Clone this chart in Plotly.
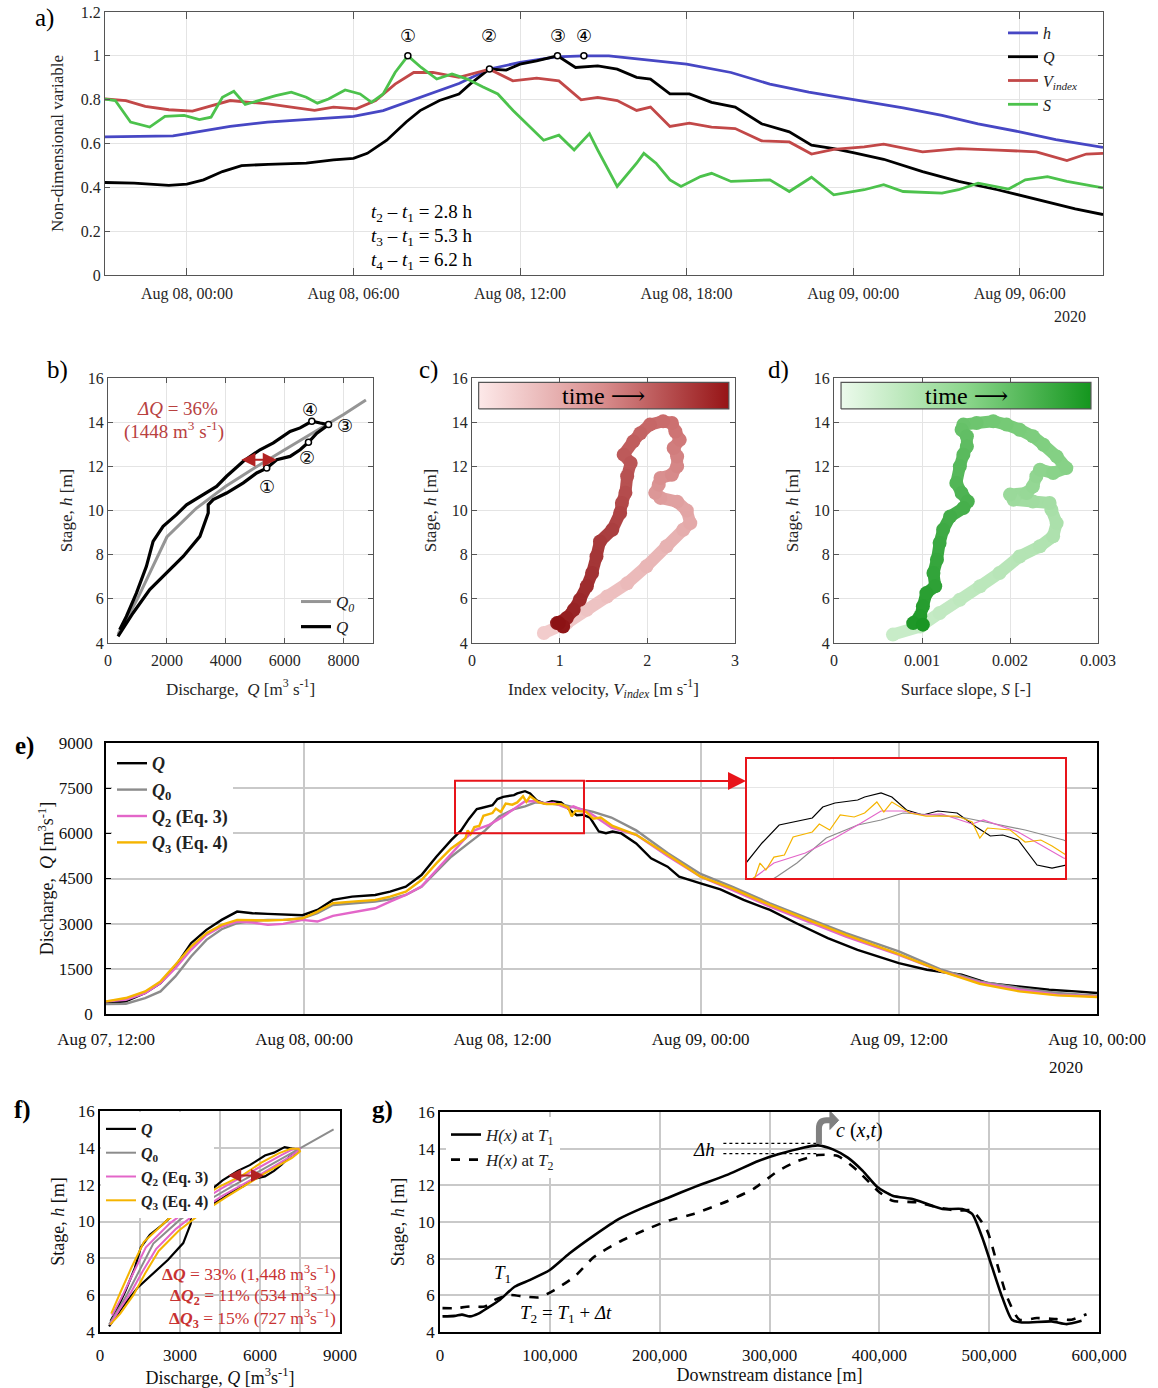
import numpy as np
import pandas as pd
import plotly.graph_objects as go
from plotly.colors import sample_colorscale

W, H = 1158, 1388
SERIF = "Liberation Serif, DejaVu Serif, serif"

def fx(p):
    return p / W

def fy(p):
    return 1 - p / H

T0_A = pd.Timestamp("2020-08-08 00:00")
T0_E = pd.Timestamp("2020-08-07 12:00")

def tt(base, hours):
    return (base + pd.to_timedelta(np.array(hours, dtype=float), unit="h")).strftime("%Y-%m-%d %H:%M:%S").tolist()

# ---------------- Panel a data (hours after 2020-08-08 00:00, non-dimensional) ----------------
a_h_t = [-2.95, -0.5, 0, 1.56, 2.9, 4.3, 6, 7.07, 8.4, 9.8, 10.9, 12, 13.3, 14.3, 15.2, 18, 19.6, 21, 22.4, 24, 25.8, 27.2, 28.5, 30, 31.3, 33]
a_h_v = [0.630, 0.635, 0.645, 0.678, 0.698, 0.71, 0.724, 0.75, 0.81, 0.874, 0.94, 0.97, 0.995, 1.0, 1.0, 0.962, 0.924, 0.871, 0.834, 0.799, 0.763, 0.728, 0.69, 0.653, 0.618, 0.582]

a_Q_t = [-2.95, -1.9, -0.65, 0, 0.6, 1.28, 1.97, 2.93, 4.3, 5.28, 6, 6.5, 7.2, 7.9, 8.4, 9.1, 9.8, 10.2, 10.9, 11.5, 12, 12.6, 13.35, 14.0, 14.8, 15.5, 16.2, 16.7, 17.4, 18.1, 18.9, 19.75, 20.7, 21.7, 22.5, 23.3, 24, 25.1, 26.5, 27.8, 29.2, 30.6, 32, 33]
a_Q_v = [0.422, 0.419, 0.409, 0.415, 0.434, 0.472, 0.499, 0.505, 0.51, 0.525, 0.532, 0.555, 0.615, 0.698, 0.75, 0.796, 0.826, 0.871, 0.94, 0.935, 0.962, 0.977, 1.0, 0.947, 0.954, 0.939, 0.902, 0.894, 0.826, 0.826, 0.788, 0.766, 0.69, 0.653, 0.592, 0.577, 0.558, 0.528, 0.472, 0.427, 0.389, 0.347, 0.302, 0.276]

a_V_t = [-2.95, -2.2, -1.5, -0.65, 0.2, 0.87, 1.56, 2.25, 2.93, 3.76, 4.6, 5.28, 6.1, 6.8, 7.5, 8.17, 8.86, 9.8, 10.9, 11.74, 12.6, 13.4, 14.2, 14.8, 15.5, 16.2, 16.7, 17.4, 18.1, 18.9, 19.75, 20.7, 21.7, 22.5, 23.3, 24.4, 25.1, 26.5, 27.8, 29.2, 30.6, 31.7, 32.4, 33]
a_V_v = [0.803, 0.796, 0.769, 0.754, 0.748, 0.773, 0.796, 0.788, 0.781, 0.766, 0.751, 0.766, 0.758, 0.796, 0.871, 0.924, 0.924, 0.902, 0.939, 0.886, 0.898, 0.886, 0.799, 0.81, 0.796, 0.751, 0.766, 0.678, 0.693, 0.675, 0.668, 0.612, 0.607, 0.552, 0.573, 0.585, 0.597, 0.562, 0.577, 0.57, 0.562, 0.522, 0.552, 0.555]

a_S_t = [-2.95, -2.58, -2.03, -1.34, -0.79, -0.1, 0.45, 0.87, 1.28, 1.69, 2.1, 2.66, 3.2, 3.76, 4.3, 4.7, 5.1, 5.7, 6.24, 6.65, 7.07, 7.5, 7.96, 8.44, 9.0, 9.55, 10.1, 10.65, 11.2, 11.75, 12.3, 12.85, 13.4, 13.95, 14.5, 14.8, 15.5, 16.2, 16.46, 16.9, 17.4, 17.8, 18.5, 18.9, 19.6, 21.0, 21.7, 22.5, 23.3, 24.4, 25.1, 25.8, 27.2, 27.8, 28.5, 29.6, 30.2, 31.0, 31.7, 32.6, 33]
a_S_v = [0.803, 0.796, 0.698, 0.675, 0.724, 0.728, 0.709, 0.72, 0.811, 0.838, 0.778, 0.799, 0.818, 0.834, 0.811, 0.784, 0.803, 0.844, 0.826, 0.788, 0.826, 0.924, 1.0, 0.947, 0.894, 0.917, 0.894, 0.859, 0.826, 0.751, 0.683, 0.615, 0.638, 0.57, 0.645, 0.57, 0.404, 0.51, 0.555, 0.51, 0.434, 0.404, 0.449, 0.464, 0.427, 0.434, 0.381, 0.446, 0.366, 0.389, 0.412, 0.381, 0.374, 0.389, 0.419, 0.392, 0.434, 0.449, 0.427, 0.404, 0.397]

a_mark_t = [7.96, 10.9, 13.35, 14.3]
a_mark_v = [1.0, 0.94, 1.0, 1.0]
mark_labels = ["①", "②", "③", "④"]

# ---------------- Panel b / f data: stage-discharge ----------------
b_Q = [340, 851, 1418, 1986, 2553, 3121, 3404, 3404, 3574, 4028, 4596, 5050, 5390, 5730, 6184, 6525, 6808, 7092, 7490,
       7206, 6922, 6525, 6184, 5617, 5163, 4596, 4028, 3688, 3121, 2667, 2326, 1872, 1532, 1305, 965, 624, 397]
b_h = [4.3, 5.36, 6.42, 7.17, 7.92, 8.83, 9.89, 10.26, 10.49, 10.79, 11.25, 11.7, 11.92, 12.3, 12.45, 12.75, 13.09, 13.5, 13.89,
       13.96, 14.04, 13.74, 13.58, 13.06, 12.75, 12.23, 11.55, 11.09, 10.64, 10.26, 9.81, 9.28, 8.6, 7.47, 6.26, 5.2, 4.6]
q0_Q = [340, 1000, 2000, 3000, 4000, 5000, 6000, 7000, 8000, 8760]
q0_h = [4.4, 6.0, 8.8, 10.1, 11.1, 11.95, 12.75, 13.55, 14.35, 15.0]
b_mark_Q = [5390, 6808, 7490, 6922]
b_mark_h = [11.92, 13.09, 13.89, 14.04]
b_lab_Q = [5390, 6751, 8057, 6865]
b_lab_h = [11.1, 12.42, 13.85, 14.57]

f_Q2 = [380, 720, 1180, 1600, 2100, 2850, 3650, 4600, 5960, 6550, 7100, 7450, 7480,
        7350, 7200, 6800, 6150, 5420, 4560, 3550, 2620, 1720, 1280, 850, 450]
f_h2 = [4.4, 5.2, 6.2, 7.3, 8.5, 9.6, 10.5, 11.4, 12.5, 13.0, 13.5, 13.85, 13.95,
        13.95, 13.9, 13.6, 13.1, 12.5, 11.8, 10.9, 9.9, 8.6, 7.3, 6.0, 4.9]
f_Q3 = [380, 760, 1250, 1700, 2200, 2950, 3750, 4700, 6050, 6650, 7200, 7500, 7450,
        7300, 7150, 6700, 6050, 5330, 4480, 3480, 2540, 1650, 1180, 780, 420]
f_h3 = [4.4, 5.0, 6.0, 7.2, 8.4, 9.5, 10.4, 11.3, 12.5, 13.0, 13.45, 13.8, 13.95,
        13.95, 13.95, 13.7, 13.2, 12.5, 11.9, 11.0, 10.1, 8.9, 7.5, 6.2, 5.0]

# ---------------- Panel c data: index velocity vs stage (time ordered) ----------------
c_V = [0.82, 1.08, 1.31, 1.54, 1.77, 1.99, 2.22, 2.41, 2.49, 2.45, 2.34, 2.15, 2.09, 2.13, 2.15, 2.28, 2.34, 2.34, 2.30, 2.37, 2.32, 2.28, 2.18, 2.03, 1.92, 1.84, 1.73, 1.81, 1.77, 1.75, 1.71, 1.69, 1.60, 1.46, 1.42, 1.37, 1.31, 1.23, 1.16, 1.08, 0.97, 1.04, 0.99]
c_h = [4.45, 4.9, 5.5, 6.1, 6.7, 7.47, 8.38, 9.13, 9.43, 10.0, 10.4, 10.57, 10.8, 11.17, 11.47, 11.62, 12.0, 12.45, 12.83, 13.2, 13.58, 13.96, 14.04, 13.89, 13.5, 13.13, 12.53, 12.15, 11.55, 10.8, 10.34, 9.89, 9.13, 8.6, 7.92, 7.17, 6.57, 5.96, 5.5, 5.13, 4.9, 4.75, 4.9]

# ---------------- Panel d data: surface slope vs stage (time ordered) ----------------
d_S = [0.00067, 0.00098, 0.0012, 0.00143, 0.00166, 0.00188, 0.00211, 0.00234, 0.00249, 0.00253, 0.00247, 0.00245, 0.00226, 0.00204, 0.0020, 0.00219, 0.00226, 0.0023, 0.00234, 0.00249, 0.00264, 0.00253, 0.00238, 0.00226, 0.00211, 0.00196, 0.00181, 0.00162, 0.00147, 0.00145, 0.00151, 0.00151, 0.00147, 0.00143, 0.00139, 0.00145, 0.00152, 0.00147, 0.00132, 0.00124, 0.0012, 0.00117, 0.00113, 0.00115, 0.00105, 0.00101, 0.00098, 0.0009, 0.00101]
d_h = [4.38, 4.75, 5.36, 5.96, 6.57, 7.17, 7.92, 8.38, 8.83, 9.43, 10.04, 10.34, 10.41, 10.49, 10.72, 10.79, 11.09, 11.55, 11.85, 11.7, 11.92, 12.45, 12.98, 13.36, 13.66, 13.89, 14.04, 13.96, 13.89, 13.66, 13.36, 12.9, 12.53, 12.0, 11.25, 10.79, 10.41, 10.11, 9.73, 9.13, 8.53, 7.77, 7.17, 6.57, 6.26, 5.66, 5.21, 4.9, 4.83]

# ---------------- Panel e data (hours after 2020-08-07 12:00, m3/s) ----------------
e_Q_t = [0, 1.2, 2.37, 3.3, 4.2, 5.15, 6.08, 7.0, 7.94, 8.87, 9.8, 10.96, 11.9, 12.8, 13.74, 14.9, 16.3, 17.2, 18.15, 19.1, 20.0, 20.9,
         21.5, 21.96, 22.45, 22.73, 23.4, 23.7, 24.05, 24.7, 24.9, 25.37, 25.68, 26.1, 26.57, 27.0, 27.55, 28.1, 28.5, 28.86, 29.3, 29.84, 30.27, 30.67,
         31.2, 32.1, 33, 34, 34.7, 36, 37.2, 38.6, 40.2, 41.8, 43.7, 45.5, 48, 49.7, 51.8, 53.4, 55.3, 57.1, 58.7, 60]
e_Q_v = [364, 420, 696, 1027, 1579, 2352, 2794, 3125, 3401, 3346, 3324, 3291, 3280, 3456, 3788, 3898, 3953, 4064, 4229, 4616, 5223, 5776,
         6097, 6470, 6804, 6841, 6934, 7139, 7213, 7269, 7325, 7400, 7325, 7083, 6990, 7064, 7027, 6767, 6600, 6618, 6525, 6060, 6004, 6060,
         5996, 5665, 5168, 4892, 4561, 4340, 4141, 3788, 3456, 3015, 2518, 2131, 1690, 1469, 1303, 1027, 917, 806, 751, 696]

e_Q0_t = [0, 1.2, 2.37, 3.3, 4.2, 5.15, 6.08, 7.0, 7.94, 8.87, 9.8, 10.96, 11.9, 12.8, 13.74, 14.9, 16.3, 17.2, 18.15, 19.1, 20.0, 20.9, 21.9,
          22.4, 22.96, 23.8, 24.7, 25.37, 26.0, 26.9, 27.8, 28.75, 29.5, 30.6,
          32.1, 34, 36, 37.9, 40.2, 42.5, 44.8, 48, 50.6, 52.9, 55.3, 57.6, 60]
e_Q0_v = [331, 342, 530, 751, 1248, 1910, 2463, 2816, 3015, 3092, 3125, 3125, 3180, 3346, 3622, 3677, 3733, 3810, 3953, 4229, 4726, 5223, 5650,
          5850, 6097, 6562, 6804, 6897, 7027, 6990, 6934, 6804, 6711, 6525,
          6100, 5350, 4650, 4229, 3677, 3180, 2683, 2076, 1469, 1082, 861, 696, 607]

e_Q2_t = [0, 1.2, 2.37, 3.3, 4.2, 5.15, 6.08, 7.0, 7.94, 8.87, 9.8, 10.73, 11.9, 12.8, 13.74, 14.9, 16.3, 17.2, 18.15, 19.1, 20.0, 20.9,
          21.76, 22.3, 23.2, 24.05, 24.8, 25.37, 26.0, 26.57, 27.1, 27.98, 28.3, 29.3, 30.6,
          32.1, 34, 36, 37.9, 40.2, 42.5, 44.8, 48, 50.6, 52.9, 55.3, 57.6, 60]
e_Q2_v = [420, 475, 696, 1027, 1524, 2131, 2628, 2904, 3070, 3037, 2960, 2993, 3125, 3070, 3258, 3368, 3512, 3733, 3953, 4229, 4782, 5334,
          5837, 6097, 6283, 6562, 6841, 7064, 7064, 6990, 7009, 6823, 6897, 6674, 6190,
          5950, 5250, 4561, 4119, 3567, 3070, 2573, 1966, 1414, 1049, 806, 641, 585]

e_Q3_t = [0, 1.2, 2.37, 3.3, 4.2, 5.15, 6.08, 7.0, 7.94, 8.87, 9.8, 10.73, 11.9, 12.8, 13.74, 14.9, 16.3, 17.2, 18.15, 19.1, 20.0, 20.9,
          21.76, 21.9, 22.07, 22.3, 22.6, 22.85, 23.4, 23.6, 23.9, 24.2, 24.6, 24.9, 25.25, 25.45, 25.68, 26.2, 26.66, 27.55, 27.98, 28.2, 28.42, 29.07, 29.5, 29.95, 30.27, 30.67,
          32.1, 34, 36, 37.9, 40.2, 42.5, 44.8, 48, 50.6, 52.9, 55.3, 57.6, 60]
e_Q3_v = [420, 530, 751, 1082, 1634, 2242, 2683, 2960, 3125, 3103, 3103, 3125, 3180, 3401, 3677, 3733, 3788, 3898, 4064, 4450, 5002, 5499,
          5837, 6097, 5967, 6208, 6245, 6581, 6674, 6823, 6711, 6990, 6953, 7027, 7232, 7046, 7232, 7027, 6971, 6971, 6860, 6562, 6748, 6711, 6488, 6525, 6413, 6245,
          5950, 5300, 4561, 4174, 3622, 3125, 2628, 1988, 1414, 1005, 751, 618, 563]

# ---------------- Panel g data: water-surface profiles ----------------
g_x1 = [2264, 13584, 20000, 27168, 35000, 43016, 54336, 67920, 81504, 99616, 117728, 140368, 163008, 185648, 208288, 230928, 262624, 289792, 307904, 330544, 344128, 357712, 371296, 384880, 398464, 412048, 430160, 443744, 457328, 475440, 484496, 493552, 502608, 511664, 520720, 529776, 556944, 570528, 584112]
g_h1 = [4.85, 4.88, 4.95, 4.85, 5.0, 5.3, 5.75, 6.47, 6.83, 7.37, 8.28, 9.27, 10.17, 10.8, 11.34, 11.89, 12.6, 13.33, 13.69, 14.05, 14.18, 13.96, 13.51, 12.79, 11.89, 11.43, 11.25, 10.98, 10.71, 10.71, 10.44, 9.18, 7.55, 5.93, 4.67, 4.52, 4.58, 4.43, 4.61]
g_x2 = [2264, 13584, 27168, 40752, 49808, 63392, 76976, 90560, 104144, 122256, 140368, 163008, 185648, 208288, 230928, 262624, 285264, 307904, 326016, 344128, 362240, 380352, 398464, 412048, 434688, 452800, 470912, 484496, 498080, 507136, 516192, 527512, 543360, 561472, 575056, 588640]
g_h2 = [5.3, 5.3, 5.39, 5.39, 5.75, 6.02, 5.93, 5.89, 6.29, 7.01, 8.1, 8.91, 9.54, 10.08, 10.44, 11.16, 11.8, 12.79, 13.33, 13.65, 13.6, 12.79, 11.71, 11.16, 11.07, 10.8, 10.62, 10.62, 9.54, 7.74, 5.93, 4.67, 4.76, 4.7, 4.67, 4.97]

# ---------------- Styles ----------------
BLUE, BLACK, RED, GREEN = "#4747c4", "#000000", "#c24848", "#4cc24c"
GRAY, PINK, ORANGE = "#8c8c8c", "#e366c9", "#f5b400"
GRID_A, LINE_A = "#e4e4e4", "#555555"
GRID_E = "#c9c9c9"

fig = go.Figure()

# ---- panel a traces ----
for t, v, c, nm in [(a_h_t, a_h_v, BLUE, "<i>h</i>"), (a_Q_t, a_Q_v, BLACK, "<i>Q</i>"),
                    (a_V_t, a_V_v, RED, "<i>V</i><sub><i>index</i></sub>"), (a_S_t, a_S_v, GREEN, "<i>S</i>")]:
    fig.add_trace(go.Scatter(x=tt(T0_A, t), y=v, mode="lines", name=nm, line=dict(color=c, width=2.8),
                             xaxis="x", yaxis="y", legend="legend"))
fig.add_trace(go.Scatter(x=tt(T0_A, a_mark_t), y=a_mark_v, mode="markers", showlegend=False,
                         marker=dict(symbol="circle", size=6, color="white", line=dict(color="black", width=1.5)),
                         xaxis="x", yaxis="y"))

# ---- panel b traces ----
fig.add_trace(go.Scatter(x=q0_Q, y=q0_h, mode="lines", name="<i>Q</i><sub><i>0</i></sub>",
                         line=dict(color="#959595", width=3), xaxis="x2", yaxis="y2", legend="legend2"))
fig.add_trace(go.Scatter(x=b_Q, y=b_h, mode="lines", name="<i>Q</i>",
                         line=dict(color="black", width=3.2), xaxis="x2", yaxis="y2", legend="legend2"))
fig.add_trace(go.Scatter(x=b_mark_Q, y=b_mark_h, mode="markers", showlegend=False,
                         marker=dict(symbol="circle", size=6, color="white", line=dict(color="black", width=1.5)),
                         xaxis="x2", yaxis="y2"))

# ---- panel c / d gradient paths ----
def gradient_path(xs, ys, cscale, xa, ya, width):
    n = len(xs)
    cols = sample_colorscale(cscale, [i / (n - 1) for i in range(n)])
    for i in range(n - 1):
        fig.add_trace(go.Scatter(x=[xs[i], xs[i + 1]], y=[ys[i], ys[i + 1]], mode="lines", showlegend=False,
                                 line=dict(color=cols[i], width=width), xaxis=xa, yaxis=ya, hoverinfo="skip"))
    fig.add_trace(go.Scatter(x=xs, y=ys, mode="markers", showlegend=False,
                             marker=dict(color=cols, size=width + 2, line=dict(width=0)), xaxis=xa, yaxis=ya))

def time_bar(x0, x1, y0, y1, cscale, xa, ya):
    fig.add_trace(go.Scatter(x=[x0, x1, x1, x0, x0], y=[y0, y0, y1, y1, y0], mode="lines", fill="toself",
                             fillgradient=dict(type="horizontal", colorscale=cscale),
                             line=dict(color="#555555", width=1.2), showlegend=False,
                             xaxis=xa, yaxis=ya, hoverinfo="skip"))

RED_PTS = [[0, "rgb(242,204,204)"], [0.5, "rgb(204,112,112)"], [1, "rgb(140,18,20)"]]
RED_BAR = [[0, "rgb(253,233,233)"], [0.5, "rgb(216,140,140)"], [1, "rgb(150,20,22)"]]
GRN_PTS = [[0, "rgb(200,236,200)"], [0.5, "rgb(122,204,122)"], [1, "rgb(26,150,36)"]]
GRN_BAR = [[0, "rgb(236,250,236)"], [0.5, "rgb(140,214,140)"], [1, "rgb(20,150,30)"]]

time_bar(0.076, 2.93, 14.6, 15.8, RED_BAR, "x3", "y3")
gradient_path(c_V, c_h, RED_PTS, "x3", "y3", 12)
time_bar(0.00008, 0.00292, 14.6, 15.8, GRN_BAR, "x4", "y4")
gradient_path(d_S, d_h, GRN_PTS, "x4", "y4", 12)

# ---- panel e traces + inset ----
e_series = [(e_Q_t, e_Q_v, BLACK, "<b><i>Q</i></b>"), (e_Q0_t, e_Q0_v, GRAY, "<b><i>Q</i><sub>0</sub></b>"),
            (e_Q2_t, e_Q2_v, PINK, "<b><i>Q</i><sub>2</sub> (Eq. 3)</b>"), (e_Q3_t, e_Q3_v, ORANGE, "<b><i>Q</i><sub>3</sub> (Eq. 4)</b>")]
for t, v, c, nm in e_series:
    fig.add_trace(go.Scatter(x=tt(T0_E, t), y=v, mode="lines", name=nm, line=dict(color=c, width=2.4),
                             xaxis="x5", yaxis="y5", legend="legend3"))
for t, v, c, nm in e_series:
    fig.add_trace(go.Scatter(x=tt(T0_E, t), y=v, mode="lines", showlegend=False, line=dict(color=c, width=1.2),
                             xaxis="x6", yaxis="y6"))

# ---- panel f traces ----
f_series = [(b_Q, b_h, BLACK, "<b><i>Q</i></b>", 2.2), (q0_Q, q0_h, GRAY, "<b><i>Q</i><sub>0</sub></b>", 2.0),
            (f_Q2, f_h2, PINK, "<b><i>Q</i><sub>2</sub> (Eq. 3)</b>", 2.0), (f_Q3, f_h3, ORANGE, "<b><i>Q</i><sub>3</sub> (Eq. 4)</b>", 2.0)]
for q, h, c, nm, w in f_series:
    fig.add_trace(go.Scatter(x=q, y=h, mode="lines", name=nm, line=dict(color=c, width=w),
                             xaxis="x7", yaxis="y7", legend="legend4"))

# ---- panel g traces ----
fig.add_trace(go.Scatter(x=g_x1, y=g_h1, mode="lines", name="<i>H(x)</i> at <i>T</i><sub>1</sub>",
                         line=dict(color="black", width=2.6, shape="spline", smoothing=0.6),
                         xaxis="x8", yaxis="y8", legend="legend5"))
fig.add_trace(go.Scatter(x=g_x2, y=g_h2, mode="lines", name="<i>H(x)</i> at <i>T</i><sub>2</sub>",
                         line=dict(color="black", width=2.6, dash="dash", shape="spline", smoothing=0.6),
                         xaxis="x8", yaxis="y8", legend="legend5"))

# ---------------- Axes ----------------
def mat_axis(domain, anchor, **kw):
    d = dict(domain=domain, anchor=anchor, showline=True, linecolor=LINE_A, linewidth=1, mirror="ticks",
             ticks="inside", ticklen=5, tickcolor=LINE_A, showgrid=True, gridcolor=GRID_A, gridwidth=1,
             zeroline=False, tickfont=dict(family=SERIF, size=16, color="#262626"))
    d.update(kw)
    return d

def e_axis(domain, anchor, **kw):
    d = dict(domain=domain, anchor=anchor, showline=True, linecolor="black", linewidth=1.6, mirror="ticks",
             ticks="inside", ticklen=5, tickcolor="black", showgrid=True, gridcolor=GRID_E, gridwidth=1.6,
             zeroline=False, tickfont=dict(family=SERIF, size=17, color="#111111"))
    d.update(kw)
    return d

TITLE_FONT = dict(family=SERIF, size=17, color="#262626")
TITLE_FONT_E = dict(family=SERIF, size=18, color="#111111")
SIXH = 6 * 3600 * 1000
TWELVEH = 12 * 3600 * 1000

layout_axes = dict(
    xaxis=mat_axis([fx(105), fx(1103)], "y", type="date", range=tt(T0_A, [-2.95, 33]), dtick=SIXH,
                   tick0="2020-08-08 00:00", tickformat="%b %d, %H:%M", ticklen=7, ticklabelstandoff=4),
    yaxis=mat_axis([fy(275), fy(12)], "x", range=[0, 1.2], dtick=0.2,
                   title=dict(text="Non-dimensional variable", font=TITLE_FONT, standoff=12)),
    xaxis2=mat_axis([fx(108), fx(373)], "y2", range=[0, 9000], dtick=2000, ticklabelstandoff=3,
                    title=dict(text="Discharge,  <i>Q</i> [m<sup>3</sup> s<sup>-1</sup>]", font=TITLE_FONT, standoff=14)),
    yaxis2=mat_axis([fy(643), fy(378)], "x2", range=[4, 16], dtick=2,
                    title=dict(text="Stage, <i>h</i> [m]", font=TITLE_FONT, standoff=10)),
    xaxis3=mat_axis([fx(472), fx(735)], "y3", range=[0, 3], dtick=1, ticklabelstandoff=3,
                    title=dict(text="Index velocity, <i>V</i><sub><i>index</i></sub> [m s<sup>-1</sup>]", font=TITLE_FONT, standoff=14)),
    yaxis3=mat_axis([fy(643), fy(378)], "x3", range=[4, 16], dtick=2,
                    title=dict(text="Stage, <i>h</i> [m]", font=TITLE_FONT, standoff=10)),
    xaxis4=mat_axis([fx(834), fx(1098)], "y4", range=[0, 0.003], dtick=0.001, tickformat=".3~f", ticklabelstandoff=3,
                    title=dict(text="Surface slope, <i>S</i> [-]", font=TITLE_FONT, standoff=14)),
    yaxis4=mat_axis([fy(643), fy(378)], "x4", range=[4, 16], dtick=2,
                    title=dict(text="Stage, <i>h</i> [m]", font=TITLE_FONT, standoff=10)),
    xaxis5=e_axis([fx(106), fx(1097)], "y5", type="date", range=tt(T0_E, [0, 60]), dtick=TWELVEH,
                  tick0="2020-08-07 12:00", tickformat="%b %d, %H:%M", ticks="", ticklabelstandoff=9),
    yaxis5=e_axis([fy(1014), fy(743)], "x5", range=[0, 9000], dtick=1500, tickformat="d", ticklabelstandoff=8,
                  title=dict(text="Discharge,  <i>Q</i> [m<sup>3</sup>s<sup>-1</sup>]", font=TITLE_FONT_E, standoff=0)),
    xaxis6=dict(domain=[fx(746), fx(1066)], anchor="y6", type="date", range=tt(T0_E, [21.5, 30.67]),
                dtick=TWELVEH, tick0="2020-08-08 00:00", showticklabels=False, ticks="", showline=False,
                showgrid=True, gridcolor="#e6e6e6", zeroline=False),
    yaxis6=dict(domain=[fy(879), fy(758)], anchor="x6", range=[5800, 8050], tickvals=[6650, 7500],
                showticklabels=False, ticks="", showline=False, showgrid=True, gridcolor="#e6e6e6", zeroline=False),
    xaxis7=e_axis([fx(100), fx(340)], "y7", range=[0, 9000], dtick=3000, ticks="", tickformat="d", ticklabelstandoff=7,
                  minor=dict(dtick=1500, showgrid=True, gridcolor=GRID_E, gridwidth=1.6),
                  title=dict(text="Discharge, <i>Q</i> [m<sup>3</sup>s<sup>-1</sup>]", font=TITLE_FONT_E, standoff=4)),
    yaxis7=e_axis([fy(1332), fy(1111)], "x7", range=[4, 16], dtick=2, ticks="",
                  title=dict(text="Stage, <i>h</i> [m]", font=TITLE_FONT_E, standoff=8)),
    xaxis8=e_axis([fx(440), fx(1099)], "y8", range=[0, 600000], dtick=100000, tickformat=",d", ticks="", ticklabelstandoff=7,
                  title=dict(text="Downstream distance [m]", font=TITLE_FONT_E, standoff=2)),
    yaxis8=e_axis([fy(1332), fy(1112)], "x8", range=[4, 16], dtick=2, ticks="",
                  title=dict(text="Stage, <i>h</i> [m]", font=TITLE_FONT_E, standoff=8)),
)

# ---------------- Annotations ----------------
ann = []
def label(x, y, text, size=24, bold=False, xref="paper", yref="paper", color="black", family=SERIF,
          xanchor="center", yanchor="middle"):
    t = f"<b>{text}</b>" if bold else text
    ann.append(dict(x=x, y=y, xref=xref, yref=yref, text=t, showarrow=False, xanchor=xanchor, yanchor=yanchor,
                    font=dict(family=family, size=size, color=color)))

label(fx(44), fy(18), "a)", size=25)
label(fx(57), fy(370), "b)", size=25)
label(fx(428), fy(370), "c)", size=25)
label(fx(778), fy(370), "d)", size=25)
label(fx(24), fy(746), "e)", size=25, bold=True)
label(fx(22), fy(1110), "f)", size=25, bold=True)
label(fx(382), fy(1110), "g)", size=25, bold=True)
label(fx(1070), fy(316), "2020", size=16, color="#262626")
label(fx(1066), fy(1067), "2020", size=17, color="#111111")

# panel a circled numbers and delay text
for t, lab in zip(a_mark_t, mark_labels):
    label(tt(T0_A, [t])[0], 1.095, lab, size=18, xref="x", yref="y", family="DejaVu Sans")
for i, (k, val) in enumerate([("2", "2.8"), ("3", "5.3"), ("4", "6.2")]):
    label(fx(369), fy(213 + i * 24), f"<i>t</i><sub>{k}</sub> – <i>t</i><sub>1</sub> = {val} h",
          size=19, xanchor="left")

# panel b labels
for q, h, lab in zip(b_lab_Q, b_lab_h, mark_labels):
    label(q, h, lab, size=18, xref="x2", yref="y2", family="DejaVu Sans")
label(fx(177), fy(408), "<i>ΔQ</i> = 36%", size=19, color="#b8413f")
label(fx(174), fy(431), "(1448 m<sup>3</sup> s<sup>-1</sup>)", size=19, color="#b8413f")
ann.append(dict(x=5730, y=12.3, ax=4480, ay=12.3, xref="x2", yref="y2", axref="x2", ayref="y2", text="",
                showarrow=True, arrowhead=2, arrowside="end+start", arrowsize=1.4, arrowwidth=2, arrowcolor="#b22222"))

# panel c/d time bar text
label(1.5, 15.2, "time ⟶", size=24, xref="x3", yref="y3")
label(0.0015, 15.2, "time ⟶", size=24, xref="x4", yref="y4")

# panel e zoom arrow
ann.append(dict(x=fx(746), y=fy(781), xref="paper", yref="paper", ax=-162, ay=0, text="",
                showarrow=True, arrowhead=2, arrowsize=1.8, arrowwidth=2, arrowcolor="#e8141a"))

# panel f labels
ann.append(dict(x=6150, y=12.5, ax=4750, ay=12.5, xref="x7", yref="y7", axref="x7", ayref="y7", text="",
                showarrow=True, arrowhead=2, arrowside="end+start", arrowsize=1.3, arrowwidth=2, arrowcolor="#b22222"))
for i, txt in enumerate(["<b>Δ<i>Q</i></b> = 33% (1,448 m<sup>3</sup>s<sup>−1</sup>)",
                         "<b>Δ<i>Q</i><sub>2</sub></b> = 11% (534 m<sup>3</sup>s<sup>−1</sup>)",
                         "<b>Δ<i>Q</i><sub>3</sub></b> = 15% (727 m<sup>3</sup>s<sup>−1</sup>)"]):
    label(fx(338), fy(1273 + i * 22.5), txt, size=17.5, color="#c83232", xanchor="right")

# panel g labels
label(57000, 7.15, "<i>T</i><sub>1</sub>", size=19, xref="x8", yref="y8")
label(115000, 5.0, "<i>T</i><sub>2</sub> = <i>T</i><sub>1</sub> + <i>Δt</i>", size=19, xref="x8", yref="y8")
label(240000, 13.95, "<i>Δh</i>", size=19, xref="x8", yref="y8")
label(382000, 15.0, "<i>c</i> (<i>x,t</i>)", size=20, xref="x8", yref="y8")

# ---------------- Shapes ----------------
shapes = [
    dict(type="rect", xref="x5", yref="y5", x0=tt(T0_E, [21.13])[0], x1=tt(T0_E, [28.94])[0], y0=6000, y1=7750,
         line=dict(color="#e8141a", width=2)),
    dict(type="rect", xref="paper", yref="paper", x0=fx(746), x1=fx(1066), y0=fy(879), y1=fy(758),
         line=dict(color="#e8141a", width=2)),
    dict(type="line", xref="x8", yref="y8", x0=258000, x1=344000, y0=14.29, y1=14.29,
         line=dict(color="black", width=1.2, dash="dot")),
    dict(type="line", xref="x8", yref="y8", x0=258000, x1=344000, y0=13.73, y1=13.73,
         line=dict(color="black", width=1.2, dash="dot")),
    dict(type="path", xref="x8", yref="y8", path="M 345000,14.25 L 345000,15.1 Q 345000,15.55 352000,15.55 L 356000,15.55",
         line=dict(color="#808080", width=6)),
    dict(type="path", xref="x8", yref="y8", path="M 355000,15.05 L 363000,15.55 L 355000,16.05 Z",
         fillcolor="#808080", line=dict(color="#808080", width=1)),
]

legend_common = dict(xanchor="left", yanchor="top", tracegroupgap=0, itemwidth=30)
fig.update_layout(
    width=W, height=H, margin=dict(l=0, r=0, t=0, b=0), template="none",
    paper_bgcolor="white", plot_bgcolor="white", hovermode=False,
    font=dict(family=SERIF, size=16, color="#222222"),
    legend=dict(x=fx(1003), y=fy(16), bgcolor="rgba(255,255,255,0)", font=dict(family=SERIF, size=16), **legend_common),
    legend2=dict(x=fx(296), y=fy(584), bgcolor="rgba(255,255,255,0)", font=dict(family=SERIF, size=17), **legend_common),
    legend3=dict(x=fx(112), y=fy(745), bgcolor="white", font=dict(family=SERIF, size=18), **legend_common),
    legend4=dict(x=fx(101), y=fy(1112), bgcolor="white", font=dict(family=SERIF, size=16), **legend_common),
    legend5=dict(x=fx(446), y=fy(1117), bgcolor="white", font=dict(family=SERIF, size=17), **legend_common),
    annotations=ann, shapes=shapes,
    **layout_axes,
)

fig.write_html("out.html", config={"displayModeBar": False},
               post_script="document.body.style.margin='0px';document.body.style.overflow='hidden';")
